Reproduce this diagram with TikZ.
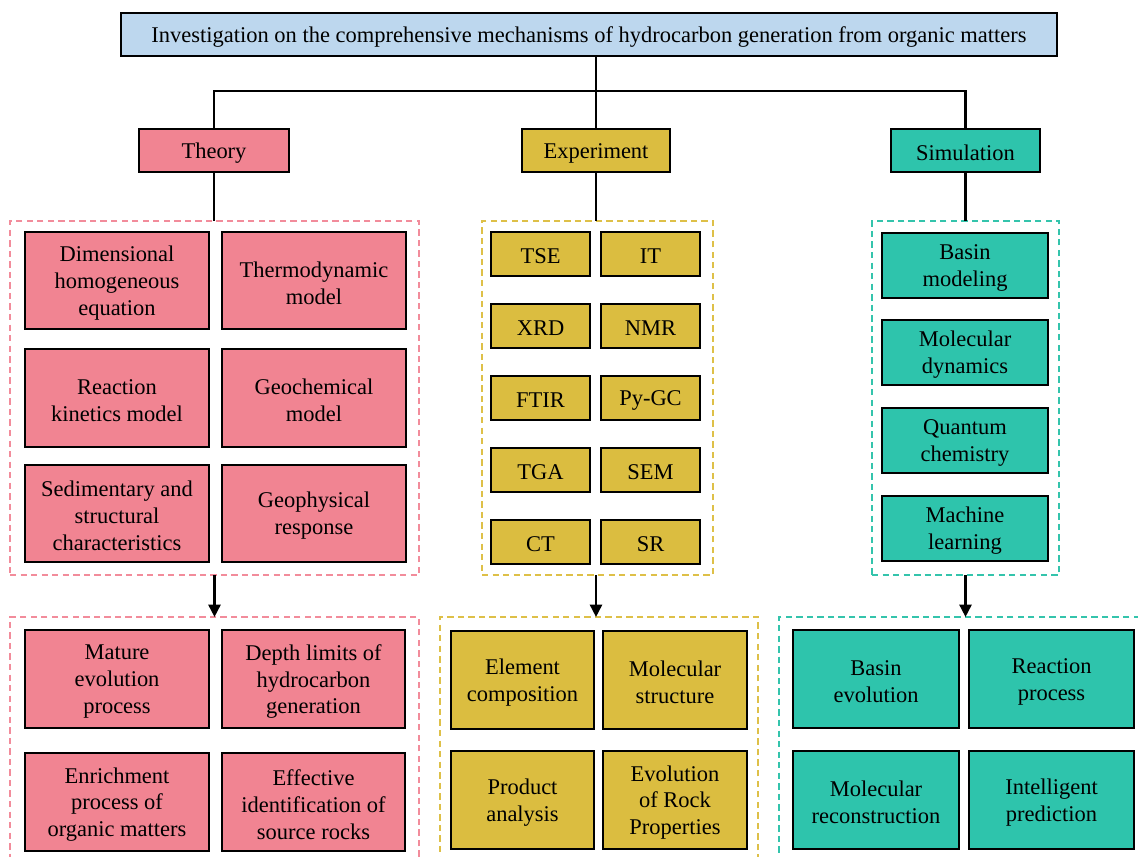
\documentclass[tikz,border=0pt]{standalone}
\usepackage{fontspec}
\setmainfont{Liberation Serif}
\usetikzlibrary{arrows.meta}
\definecolor{tblue}{RGB}{189,215,238}
\definecolor{tpink}{RGB}{241,132,146}
\definecolor{tgold}{RGB}{219,189,64}
\definecolor{tteal}{RGB}{46,196,172}
\definecolor{dpink}{RGB}{242,140,155}
\definecolor{dgold}{RGB}{222,192,72}
\definecolor{dteal}{RGB}{52,196,172}
\newcommand\bx[7]{\node[#2, minimum width={0.02cm*(#5-#3)}, minimum height={0.02cm*(#6-#4)}] (#1) at ({(#3+#5)/2},{(#4+#6)/2}) {};
  \node[txt] (#1-t) at ([yshift=-0.05cm]#1.center) {#7};}
\tikzset{
  every node/.style={inner sep=0pt, outer sep=0pt, align=center},
  txt/.style={font=\fontsize{12.8}{15.3}\selectfont},
  sbox/.style={draw=black, line width=1.1pt},
  pinkbox/.style={sbox, fill=tpink},
  goldbox/.style={sbox, fill=tgold},
  tealbox/.style={sbox, fill=tteal},
  bluebox/.style={sbox, fill=tblue},
  grp/.style={draw=#1, line width=0.9pt, dash pattern=on 3.6pt off 2.4pt},
  conn/.style={draw=black, line width=1.4pt},
  arr/.style={conn, -{Triangle[width=6.8pt,length=7pt]}}
}
\begin{document}
\begin{tikzpicture}[x=0.02cm,y=-0.02cm]
\useasboundingbox (0,0) rectangle (1138,856);
\clip (0,0) rectangle (1138,856);
% top
\bx{title}{bluebox}{121}{13}{1057}{56}{Investigation on the comprehensive mechanisms of hydrocarbon generation from organic matters}
\bx{th}{pinkbox}{139}{129}{289}{172}{Theory}
\bx{ex}{goldbox}{522}{129}{670}{172}{Experiment}
\bx{si}{tealbox}{891}{129}{1040}{172}{Simulation}
\coordinate (hy) at (0,91);
% upper groups
\bx{tg}{grp=dpink}{10}{221}{419}{575}{}
\bx{eg}{grp=dgold}{482}{221}{713}{575}{}
\bx{sg}{grp=dteal}{872}{221}{1059}{575}{}
% lower groups
\bx{tl}{grp=dpink}{10}{617}{419}{880}{}
\bx{el}{grp=dgold}{440}{617}{758}{880}{}
\bx{sl}{grp=dteal}{779}{617}{1160}{880}{}
% theory upper
\bx{t1}{pinkbox}{25}{232}{209}{329}{Dimensional\\homogeneous\\equation}
\bx{t2}{pinkbox}{222}{232}{406}{329}{Thermodynamic\\model}
\bx{t3}{pinkbox}{25}{349}{209}{447}{Reaction\\kinetics model}
\bx{t4}{pinkbox}{222}{349}{406}{447}{Geochemical\\model}
\bx{t5}{pinkbox}{25}{465}{209}{562}{Sedimentary and\\structural\\characteristics}
\bx{t6}{pinkbox}{222}{465}{406}{562}{Geophysical\\response}
% experiment upper
\bx{e1}{goldbox}{491}{232}{590}{276}{TSE}
\bx{e2}{goldbox}{601}{232}{700}{276}{IT}
\bx{e3}{goldbox}{491}{304}{590}{348}{XRD}
\bx{e4}{goldbox}{601}{304}{700}{348}{NMR}
\bx{e5}{goldbox}{491}{376}{590}{420}{FTIR}
\bx{e6}{goldbox}{601}{376}{700}{420}{Py-GC}
\bx{e7}{goldbox}{491}{448}{590}{492}{TGA}
\bx{e8}{goldbox}{601}{448}{700}{492}{SEM}
\bx{e9}{goldbox}{491}{520}{590}{564}{CT}
\bx{e10}{goldbox}{601}{520}{700}{564}{SR}
% simulation upper
\bx{s1}{tealbox}{882}{233}{1048}{298}{Basin\\modeling}
\bx{s2}{tealbox}{882}{320}{1048}{385}{Molecular\\dynamics}
\bx{s3}{tealbox}{882}{408}{1048}{473}{Quantum\\chemistry}
\bx{s4}{tealbox}{882}{496}{1048}{561}{Machine\\learning}
% theory lower
\bx{u1}{pinkbox}{25}{630}{209}{728}{Mature\\evolution\\process}
\bx{u2}{pinkbox}{222}{630}{405}{728}{Depth limits of\\hydrocarbon\\generation}
\bx{u3}{pinkbox}{25}{753}{209}{851}{Enrichment\\process of\\organic matters}
\bx{u4}{pinkbox}{222}{753}{405}{851}{Effective\\identification of\\source rocks}
% experiment lower
\bx{v1}{goldbox}{451}{631}{594}{729}{Element\\composition}
\bx{v2}{goldbox}{603}{631}{747}{729}{Molecular\\structure}
\bx{v3}{goldbox}{451}{751}{594}{849}{Product\\analysis}
\bx{v4}{goldbox}{603}{751}{747}{849}{Evolution\\of Rock\\Properties}
% simulation lower
\bx{w1}{tealbox}{793}{630}{959}{728}{Basin\\evolution}
\bx{w2}{tealbox}{969}{630}{1134}{728}{Reaction\\process}
\bx{w3}{tealbox}{793}{751}{959}{849}{Molecular\\reconstruction}
\bx{w4}{tealbox}{969}{751}{1134}{849}{Intelligent\\prediction}
% connectors
\draw[conn] (title.south -| ex.north) -- (ex.north);
\draw[conn] (th.north) -- (th.north |- hy) -- (si.north |- hy) -- (si.north);
\draw[conn] (th.south) -- (th.south |- tg.north);
\draw[conn] (ex.south) -- (ex.south |- eg.north);
\draw[conn] (si.south) -- (si.south |- sg.north);
\draw[arr] (tg.south) -- (tg.south |- tl.north);
\draw[arr] (eg.south -| ex.south) -- (ex.south |- el.north);
\draw[arr] (sg.south -| si.south) -- (si.south |- sl.north);
\end{tikzpicture}
\end{document}
